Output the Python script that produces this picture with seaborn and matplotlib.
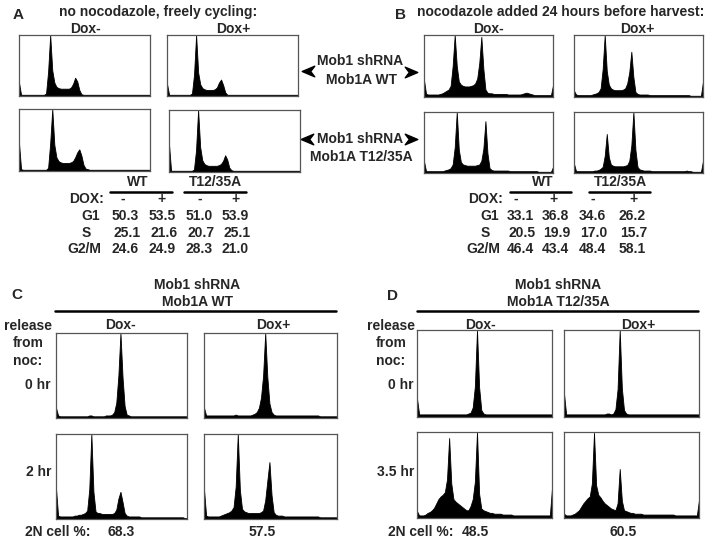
import numpy as np
import pandas as pd
import matplotlib.pyplot as plt
from matplotlib.path import Path
import seaborn as sns

# DNA-content channels (64 per histogram), counts in % of panel maximum
channels = np.arange(64)

# A: no nocodazole, freely cycling
a_wt_minus = [22, 2, 2, 2, 2, 2, 2, 2, 2, 2, 2, 2, 2, 4, 40, 100,
              42, 22, 15, 13, 12, 12, 12, 12, 12, 14, 20, 30, 24, 10, 3, 2,
              2, 2, 2, 2, 2, 2, 2, 2, 2, 2, 2, 2, 2, 2, 2, 2,
              2, 2, 2, 2, 2, 2, 2, 2, 2, 2, 2, 2, 2, 2, 2, 2]
a_wt_plus = [20, 2, 2, 2, 2, 2, 2, 2, 2, 2, 2, 2, 4, 35, 100, 38,
             19, 13, 11, 10, 10, 10, 10, 11, 14, 22, 27, 18, 6, 2, 2, 2,
             2, 2, 2, 2, 2, 2, 2, 2, 2, 2, 2, 2, 2, 2, 2, 2,
             2, 2, 2, 2, 2, 2, 2, 2, 2, 2, 2, 2, 2, 2, 2, 2]
a_mut_minus = [45, 3, 2, 2, 2, 2, 2, 2, 2, 2, 2, 2, 2, 2, 5, 45,
               100, 42, 22, 16, 14, 13, 13, 13, 13, 14, 16, 22, 30, 35, 25, 10,
               4, 3, 2, 2, 2, 2, 2, 2, 2, 2, 2, 2, 2, 2, 2, 2,
               2, 2, 2, 2, 2, 2, 2, 2, 2, 2, 2, 2, 2, 2, 2, 2]
a_mut_plus = [45, 2, 2, 2, 2, 2, 2, 2, 2, 2, 2, 2, 4, 35, 100, 40,
              19, 13, 11, 10, 10, 10, 10, 10, 11, 13, 18, 27, 20, 7, 3, 2,
              2, 2, 2, 2, 2, 2, 2, 2, 2, 2, 2, 2, 2, 2, 2, 2,
              2, 2, 2, 2, 2, 2, 2, 2, 2, 2, 2, 2, 2, 2, 2, 2]

# B: nocodazole added 24 hours before harvest
b_wt_minus = [27, 5, 4, 4, 4, 4, 4, 4, 5, 6, 8, 10, 12, 18, 50, 100,
              50, 25, 20, 18, 17, 17, 17, 18, 19, 22, 30, 55, 97, 45, 12, 7,
              6, 6, 5, 5, 5, 5, 5, 5, 5, 4, 4, 4, 4, 4, 4, 4,
              5, 6, 7, 6, 5, 4, 3, 3, 3, 3, 3, 3, 3, 3, 3, 19]
b_wt_plus = [10, 4, 3, 3, 3, 3, 3, 3, 3, 4, 5, 6, 8, 14, 45, 100,
             42, 20, 14, 12, 11, 11, 11, 11, 12, 14, 22, 40, 73, 32, 8, 5,
             4, 4, 4, 4, 4, 3, 3, 3, 3, 3, 3, 3, 3, 3, 3, 3,
             3, 3, 3, 3, 3, 3, 3, 3, 3, 2, 2, 2, 2, 2, 2, 25]
b_mut_minus = [19, 3, 3, 3, 3, 3, 3, 3, 3, 3, 4, 5, 6, 8, 14, 42,
               100, 38, 18, 14, 13, 12, 12, 12, 12, 12, 13, 14, 20, 40, 85, 32,
               8, 5, 4, 4, 4, 4, 4, 4, 4, 4, 3, 3, 3, 3, 3, 3,
               3, 3, 3, 3, 3, 3, 3, 3, 2, 2, 2, 2, 2, 2, 2, 10]
b_mut_plus = [15, 3, 3, 3, 3, 3, 3, 3, 3, 3, 4, 4, 5, 7, 10, 28,
              64, 26, 14, 12, 11, 11, 11, 11, 11, 12, 13, 20, 45, 100, 38, 10,
              6, 5, 4, 4, 4, 4, 3, 3, 3, 3, 3, 3, 3, 3, 3, 3,
              3, 3, 3, 3, 3, 3, 3, 4, 3, 3, 2, 2, 2, 2, 2, 20]

# C: Mob1A WT, release from nocodazole
c_0hr_minus = [12, 3, 2, 2, 2, 2, 2, 2, 2, 2, 2, 2, 2, 2, 2, 2,
               3, 3, 2, 2, 2, 2, 2, 2, 3, 3, 3, 4, 7, 18, 50, 100,
               48, 14, 4, 3, 2, 2, 2, 2, 2, 2, 2, 2, 2, 2, 2, 2,
               2, 2, 2, 2, 2, 2, 2, 2, 2, 2, 2, 2, 2, 2, 2, 2]
c_0hr_plus = [12, 3, 3, 3, 3, 3, 3, 3, 3, 3, 3, 3, 3, 3, 3, 4,
              3, 3, 3, 3, 3, 3, 3, 4, 5, 7, 12, 24, 50, 100, 48, 17,
              7, 4, 3, 3, 3, 3, 3, 3, 3, 3, 3, 3, 3, 3, 3, 3,
              3, 3, 3, 3, 3, 3, 3, 2, 2, 2, 2, 2, 2, 2, 2, 2]
c_2hr_minus = [36, 4, 3, 3, 3, 3, 3, 3, 3, 4, 4, 5, 5, 6, 7, 10,
               35, 100, 32, 9, 7, 7, 6, 6, 6, 6, 6, 6, 7, 11, 24, 32,
               20, 7, 4, 3, 3, 3, 3, 3, 3, 2, 2, 2, 2, 2, 2, 2,
               2, 2, 2, 2, 2, 2, 2, 2, 2, 2, 2, 2, 2, 2, 1, 1]
c_2hr_plus = [35, 4, 3, 3, 3, 3, 3, 3, 4, 5, 6, 7, 8, 10, 14, 38,
              100, 34, 12, 9, 8, 7, 7, 7, 7, 7, 7, 8, 10, 22, 45, 67,
              28, 8, 5, 4, 4, 4, 3, 3, 3, 3, 3, 3, 3, 3, 3, 3,
              3, 3, 3, 3, 3, 3, 3, 2, 2, 2, 2, 2, 2, 2, 2, 2]

# D: Mob1A T12/35A, release from nocodazole
d_0hr_minus = [21, 3, 3, 3, 3, 3, 3, 3, 3, 3, 3, 3, 3, 3, 3, 3,
               3, 3, 3, 3, 3, 3, 3, 3, 4, 5, 11, 35, 100, 34, 8, 4,
               3, 3, 3, 3, 3, 3, 3, 3, 3, 3, 3, 3, 3, 3, 3, 3,
               3, 3, 3, 3, 3, 3, 3, 3, 3, 3, 3, 3, 3, 3, 3, 3]
d_0hr_plus = [27, 3, 3, 3, 3, 3, 3, 3, 3, 3, 3, 3, 3, 3, 3, 3,
              3, 3, 3, 3, 4, 4, 3, 4, 9, 32, 100, 33, 8, 4, 3, 3,
              3, 3, 3, 3, 3, 3, 3, 3, 3, 3, 3, 3, 3, 3, 3, 3,
              3, 3, 3, 3, 3, 3, 3, 3, 3, 3, 3, 3, 3, 3, 3, 3]
d_35hr_minus = [8, 3, 3, 3, 4, 6, 7, 9, 12, 17, 22, 25, 27, 30, 45, 93,
                40, 22, 19, 17, 15, 13, 11, 9, 9, 14, 22, 42, 100, 28, 11, 9,
                8, 7, 6, 6, 5, 5, 5, 5, 4, 4, 4, 4, 4, 3, 3, 3,
                3, 3, 3, 3, 3, 3, 3, 3, 3, 3, 3, 3, 3, 3, 3, 35]
d_35hr_plus = [5, 3, 3, 3, 4, 5, 7, 9, 13, 17, 20, 23, 25, 40, 99, 38,
               27, 24, 20, 17, 15, 13, 11, 10, 9, 17, 57, 20, 9, 8, 7, 6,
               6, 5, 5, 5, 5, 4, 4, 4, 4, 4, 4, 4, 4, 4, 4, 4,
               4, 4, 4, 4, 3, 3, 3, 3, 3, 3, 3, 3, 3, 3, 3, 21]

# cell cycle tables
dox_signs = ['-', '+', '-', '+']
a_g1 = [50.3, 53.5, 51.0, 53.9]
a_s = [25.1, 21.6, 20.7, 25.1]
a_g2m = [24.6, 24.9, 28.3, 21.0]
b_g1 = [33.1, 36.8, 34.6, 26.2]
b_s = [20.5, 19.9, 17.0, 15.7]
b_g2m = [46.4, 43.4, 48.4, 58.1]
c_2n = [68.3, 57.5]
d_2n = [48.5, 60.5]

W, H = 714, 542
sns.set_style("white")
plt.rcParams['font.family'] = ['Liberation Sans', 'DejaVu Sans']
plt.rcParams['font.weight'] = 'bold'
plt.rcParams['font.size'] = 10

fig = plt.figure(figsize=(W / 100, H / 100), dpi=100)

# overlay in pixel coordinates for labels
ov = fig.add_axes([0, 0, 1, 1])
ov.set_xlim(0, W)
ov.set_ylim(H, 0)
ov.axis('off')


def panel(box, counts):
    x0, x1, y0, y1 = box
    ax = fig.add_axes([x0 / W, 1 - y1 / H, (x1 - x0) / W, (y1 - y0) / H])
    df = pd.DataFrame({'channel': channels, 'count': counts})
    sns.histplot(data=df, x='channel', weights='count', bins=64, binrange=(0, 64),
                 element='poly', fill=True, color='black', alpha=1,
                 linewidth=0.6, ax=ax)
    ax.set_xlim(0.5, 63.5)
    ax.set_ylim(0, 100)
    ax.set_xticks([])
    ax.set_yticks([])
    ax.set_xlabel('')
    ax.set_ylabel('')
    for sp in ax.spines.values():
        sp.set_color('#555555')
        sp.set_linewidth(0.9)
    return ax


panel((19, 150, 35, 96), a_wt_minus)
panel((167, 298, 35, 96), a_wt_plus)
panel((19, 150, 109, 171), a_mut_minus)
panel((169, 300, 110, 172), a_mut_plus)
panel((424, 553, 35, 97), b_wt_minus)
panel((574, 703, 35, 97), b_wt_plus)
panel((424, 553, 112, 173), b_mut_minus)
panel((574, 703, 112, 173), b_mut_plus)
panel((56, 187, 333, 418), c_0hr_minus)
panel((204, 337, 333, 418), c_0hr_plus)
panel((56, 187, 434, 519), c_2hr_minus)
panel((204, 337, 434, 519), c_2hr_plus)
panel((417, 552, 330, 417), d_0hr_minus)
panel((564, 699, 330, 417), d_0hr_plus)
panel((417, 552, 432, 518), d_35hr_minus)
panel((564, 699, 432, 518), d_35hr_plus)


def txt(x, y, s, ha='center', size=10):
    ov.text(x, y, s, ha=ha, va='center', fontsize=size, fontweight='bold')


# panel letters and headers
txt(18, 15, 'A', size=11)
txt(401, 15, 'B', size=11)
txt(17, 295, 'C', size=11)
txt(392, 296, 'D', size=11)
txt(158, 12, 'no nocodazole, freely cycling:')
txt(561, 12, 'nocodazole added 24 hours before harvest:')
for x, s in [(85, 'Dox-'), (233, 'Dox+'), (488, 'Dox-'), (637, 'Dox+')]:
    txt(x, 29, s)
for x, s in [(120, 'Dox-'), (273, 'Dox+'), (480, 'Dox-'), (638, 'Dox+')]:
    txt(x, 325, s)

# construct labels between A and B with arrowheads
txt(360, 61, 'Mob1 shRNA')
txt(361, 80, 'Mob1A WT')
txt(360, 139, 'Mob1 shRNA')
txt(361, 157, 'Mob1A T12/35A')
head = Path([(-1, 0), (1, 0.85), (0.35, 0), (1, -0.85), (-1, 0)],
            [Path.MOVETO, Path.LINETO, Path.LINETO, Path.LINETO, Path.CLOSEPOLY])
head_r = Path([(1, 0), (-1, 0.85), (-0.35, 0), (-1, -0.85), (1, 0)],
              [Path.MOVETO, Path.LINETO, Path.LINETO, Path.LINETO, Path.CLOSEPOLY])
ov.plot([308, 307], [71, 139], marker=head, ms=9, color='black', ls='none')
ov.plot([411, 411], [72, 139], marker=head_r, ms=9, color='black', ls='none')


def table(xs, sign_x, label_r, s_x, g1, s, g2m, groups):
    for (cx, lx0, lx1), name in groups:
        txt(cx, 182, name)
        ov.plot([lx0, lx1], [192, 192], color='black', lw=1.8)
    txt(label_r, 199, 'DOX:', ha='right')
    for x, sg in zip(sign_x, dox_signs):
        txt(x, 199, sg)
    txt(label_r - 4, 216, 'G1', ha='right')
    txt(s_x, 233, 'S')
    txt(label_r - 3, 249, 'G2/M', ha='right')
    for i, x in enumerate(xs):
        txt(x, 216, f'{g1[i]:.1f}')
        txt(x + 2, 233, f'{s[i]:.1f}')
        txt(x, 249, f'{g2m[i]:.1f}')


table([125, 162, 199, 235], [123, 162, 200, 235], 104, 86, a_g1, a_s, a_g2m,
      [((138, 110, 172), 'WT'), ((215, 184, 246), 'T12/35A')])
table([520, 555, 592, 632], [516, 553, 593, 633], 503, 485, b_g1, b_s, b_g2m,
      [((543, 510, 571), 'WT'), ((620, 589, 650), 'T12/35A')])

# C and D headers
for cx, x0, x1, name, cx_rel, time_lbl, vals, v_x in [
        (197, 55, 336, 'Mob1A WT', 28, '2 hr', c_2n, (121, 262)),
        (558, 417, 698, 'Mob1A T12/35A', 391, '3.5 hr', d_2n, (475, 623))]:
    txt(cx, 285, 'Mob1 shRNA')
    txt(cx, 302, name)
    ov.plot([x0, x1], [311, 311], color='black', lw=1.8)
    txt(cx_rel, 326, 'release')
    txt(cx_rel, 343, 'from')
    txt(cx_rel, 361, 'noc:')
    txt(cx_rel + 23, 385, '0 hr', ha='right')
    txt(cx_rel + 23, 472, time_lbl, ha='right')
    txt(cx_rel - 3, 532, '2N cell %:', ha='left')
    for x, v in zip(v_x, vals):
        txt(x, 532, f'{v:.1f}')

fig.savefig('out.png', dpi=100)
